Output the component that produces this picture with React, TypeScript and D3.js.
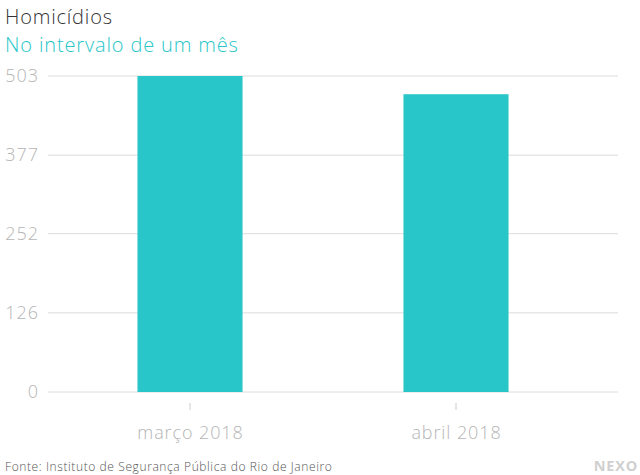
import React from "react";
import * as d3 from "d3";

const categories = ["março 2018", "abril 2018"];
const values = [503, 474];
const yTicks = [0, 126, 252, 377, 503];

const W = 640, H = 475;
const teal = "#28c6c9";

export default function App() {
  const x = d3.scaleBand<string>().domain(categories).range([57, 589]).paddingInner(0.605).paddingOuter(0.3025);
  const y = d3.scaleLinear().domain([0, 503]).range([392, 76]);
  const font = "'Open Sans', Lato, sans-serif";
  return (
    <svg width={W} height={H} style={{ position: "absolute", left: 0, top: 0, background: "#fff" }} fontFamily={font}>
      <text x={5} y={24} fontSize={20} fill="#333" fontWeight={300} letterSpacing={0.8}>Homicídios</text>
      <text x={5} y={52} fontSize={20} fill={teal} fontWeight={300} letterSpacing={0.85}>No intervalo de um mês</text>
      {yTicks.map((t) => (
        <g key={t}>
          <line x1={48} x2={618} y1={y(t)} y2={y(t)} stroke="#dcdcdc" strokeWidth={1} />
          <text x={39} y={y(t) + 6} fontSize={18} fill="#b5b5b5" textAnchor="end" fontWeight={300} letterSpacing={1}>{t}</text>
        </g>
      ))}
      {categories.map((c, i) => (
        <g key={c}>
          <rect x={x(c)} y={y(values[i])} width={x.bandwidth()} height={y(0) - y(values[i])} fill={teal} />
          <line x1={x(c)! + x.bandwidth() / 2} x2={x(c)! + x.bandwidth() / 2} y1={403} y2={410} stroke="#ccc" />
          <text x={x(c)! + x.bandwidth() / 2 + 0.5} y={439} fontSize={18} fill="#b5b5b5" textAnchor="middle" fontWeight={300} letterSpacing={0.9}>{c}</text>
        </g>
      ))}
      <text x={5} y={471} fontSize={12} fill="#555" fontWeight={300} letterSpacing={0.6}>Fonte: Instituto de Segurança Pública do Rio de Janeiro</text>
      <text x={638} y={471} fontSize={14.5} fill="#d0d0d0" fontWeight={700} textAnchor="end" letterSpacing={0.8}>NEXO</text>
    </svg>
  );
}
